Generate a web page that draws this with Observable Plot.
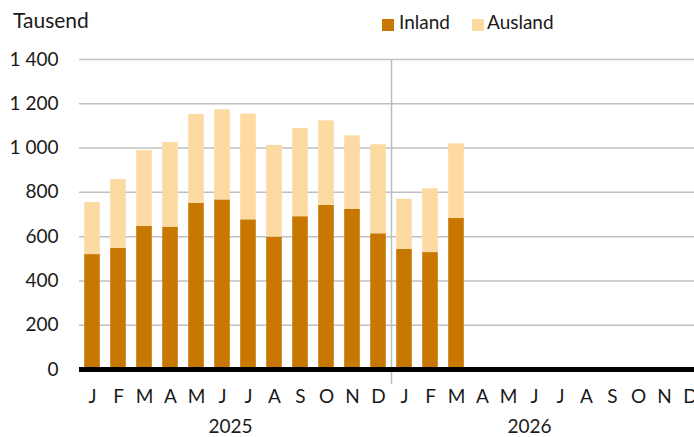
<!DOCTYPE html>
<html>
<head>
<meta charset="utf-8">
<script src="https://cdn.jsdelivr.net/npm/d3@7"></script>
<script src="https://cdn.jsdelivr.net/npm/@observablehq/plot@0.6"></script>
<style>
  body { margin: 0; background: #fff; font-family: Lato, "Noto Sans", sans-serif; color: #1a1a1a; overflow: hidden; }
  #wrap { position: relative; width: 694px; }
  #head { position: relative; height: 40px; }
  #head div, #head span { position: absolute; line-height: 1; white-space: nowrap; }
  #unit { left: 13px; top: 9px; font-size: 21px; }
  .lt { font-size: 19px; top: 12px; }
  .sw { width: 12px; height: 12px; top: 19px; }
</style>
</head>
<body>
<div id="wrap">
  <div id="head">
    <div id="unit">Tausend</div>
    <span class="sw" style="left:382px;background:#C87800"></span>
    <span class="lt" style="left:399px">Inland</span>
    <span class="sw" style="left:472px;background:#FDDAA2"></span>
    <span class="lt" style="left:487px">Ausland</span>
  </div>
  <div id="chart"></div>
</div>
<script>
const monthLetters = ["J","F","M","A","M","J","J","A","S","O","N","D"];
const years = ["2025","2026"];
const inland  = [519,547,647,643,750,766,676,598,690,741,724,613,542,528,683];
const ausland = [235,311,341,382,402,407,477,414,399,382,331,402,227,288,336];
const yTicks = [0,200,400,600,800,1000,1200,1400];
const series = ["Inland","Ausland"];
const colors = ["#C87800","#FDDAA2"];

const keys = [];
years.forEach(y => monthLetters.forEach((m, i) => keys.push(y + "-" + String(i + 1).padStart(2, "0"))));

const data = [];
inland.forEach((v, i) => data.push({key: keys[i], series: "Inland", value: v}));
ausland.forEach((v, i) => data.push({key: keys[i], series: "Ausland", value: v}));

const fmt = d => d >= 1000 ? Math.floor(d / 1000) + " " + String(d % 1000).padStart(3, "0") : String(d);

const chart = Plot.plot({
  width: 694,
  height: 397,
  marginTop: 19,
  marginBottom: 68,
  marginLeft: 79,
  marginRight: 0,
  style: {fontFamily: "Lato, 'Noto Sans', sans-serif", fontSize: "19px", color: "#1a1a1a", background: "#fff", overflow: "hidden"},
  x: {domain: keys, range: [79, 703], paddingInner: 0.4, paddingOuter: 0.2, round: false, axis: null},
  y: {domain: [0, 1400], axis: null},
  color: {domain: series, range: colors},
  marks: [
    Plot.ruleY(yTicks.filter(d => d > 0), {stroke: "#c0c0c0", strokeWidth: 1.5}),
    Plot.barY(data, {x: "key", y: "value", fill: "series", order: series}),
    Plot.ruleX([keys[12]], {x: d => d, dx: -13, stroke: "#bdbdbd", strokeWidth: 1.5, insetBottom: -15}),
    Plot.ruleY([0], {stroke: "#000", strokeWidth: 5}),
    Plot.text(yTicks, {y: d => d, text: fmt, frameAnchor: "left", dx: -21, textAnchor: "end", fill: "#1a1a1a"}),
    Plot.text(keys, {x: d => d, text: (d, i) => monthLetters[i % 12], frameAnchor: "bottom", lineAnchor: "middle", dy: 27, fill: "#1a1a1a"}),
    Plot.text([years[0]], {x: [keys[5]], text: d => d, frameAnchor: "bottom", lineAnchor: "middle", dy: 57, dx: 8, fill: "#1a1a1a"}),
    Plot.text([years[1]], {x: [keys[17]], text: d => d, frameAnchor: "bottom", lineAnchor: "middle", dy: 57, dx: -5, fill: "#1a1a1a"})
  ]
});
document.getElementById("chart").appendChild(chart);
</script>
</body>
</html>
